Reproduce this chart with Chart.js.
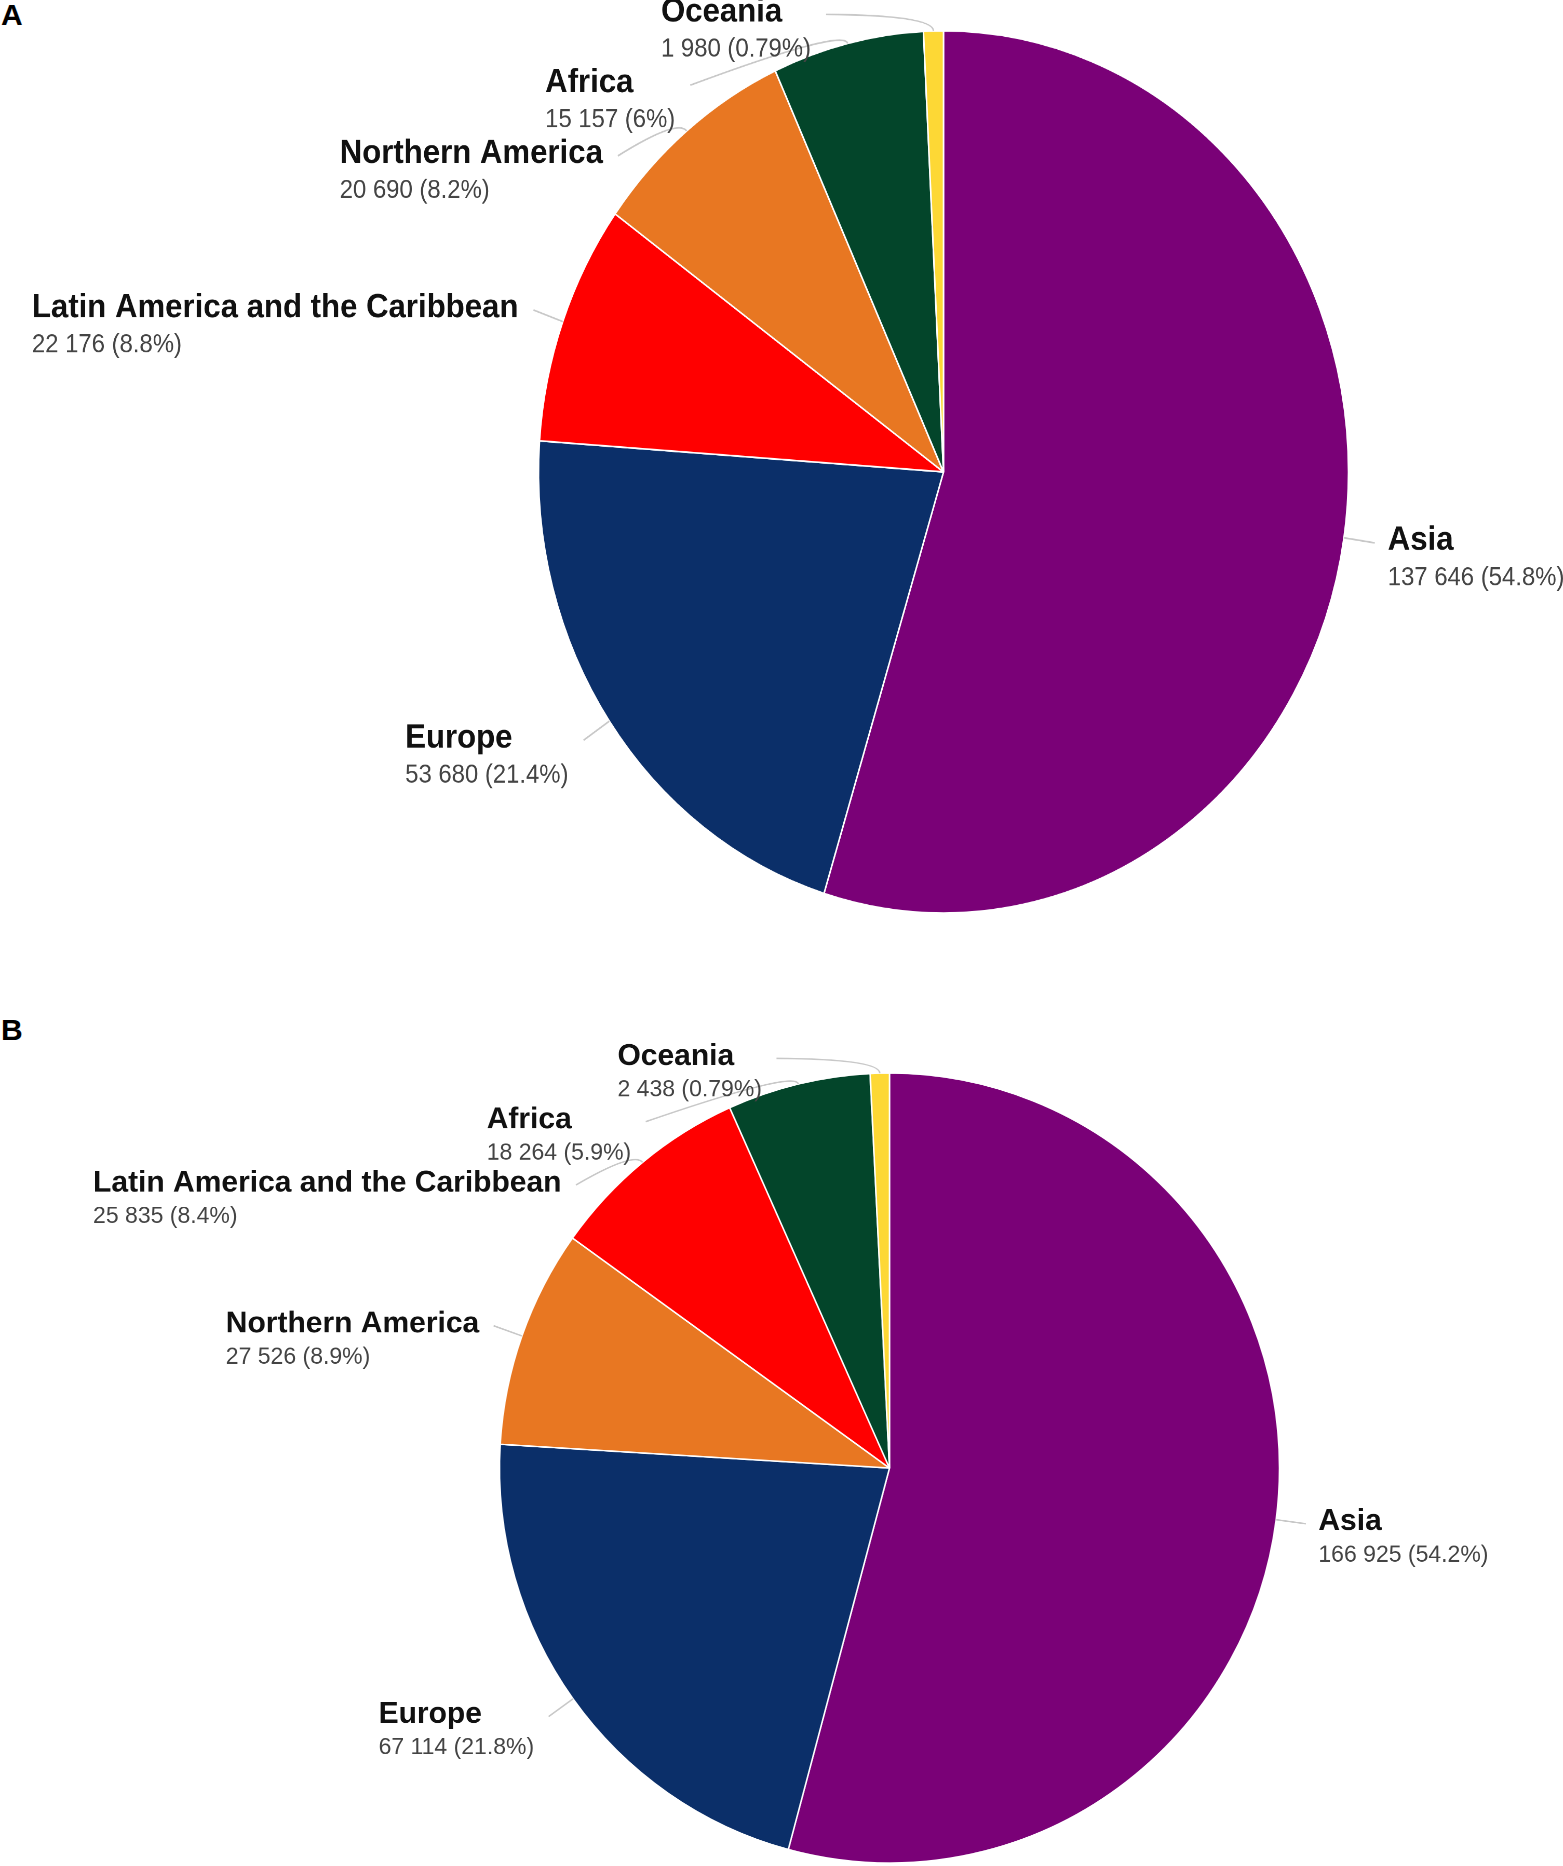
<!DOCTYPE html>
<html>
<head>
<meta charset="utf-8">
<title>Population by region</title>
<script src="https://cdn.jsdelivr.net/npm/chart.js@4.4.1/dist/chart.umd.min.js"></script>
<style>
  html, body { margin: 0; background: #fff; }
  #page { position: relative; width: 1563px; height: 1866px; overflow: hidden; font-family: "Liberation Sans", Arial, sans-serif; }
  .panel { position: absolute; left: 0; transform-origin: 0 0; }
  .tag { position: absolute; left: 1px; font-weight: bold; font-size: 30px; line-height: 1; color: #000; }
</style>
</head>
<body>
<div id="page">
  <div class="tag" style="top:0px">A</div>
  <div class="tag" style="top:1015px">B</div>
  <div class="panel" style="top:0; width:1506px; height:840px; transform:scale(1.0385,1.131)">
    <canvas id="chartA" width="1506" height="840"></canvas>
  </div>
  <div class="panel" style="top:950px; width:1563px; height:904px; transform:scale(1,1.0128)">
    <canvas id="chartB" width="1563" height="904"></canvas>
  </div>
</div>
<script>
// Panel A
const regionsA = ["Asia", "Europe", "Latin America and the Caribbean", "Northern America", "Africa", "Oceania"];
const valuesA = [137646, 53680, 22176, 20690, 15157, 1980];

// Panel B
const regionsB = ["Asia", "Europe", "Northern America", "Latin America and the Caribbean", "Africa", "Oceania"];
const valuesB = [166925, 67114, 27526, 25835, 18264, 2438];

const regionColors = {
    "Asia": "#7a0177",
    "Europe": "#0b2f69",
    "Latin America and the Caribbean": "#ff0000",
    "Northern America": "#e87722",
    "Africa": "#03452a",
    "Oceania": "#fdd835",
};

function formatNumber(n) {
    return String(n).replace(/\B(?=(\d{3})+(?!\d))/g, " ");
}

function formatPercent(p) {
    if (p < 1) return p.toPrecision(2) + "%";
    return String(Math.round(p * 10) / 10) + "%";
}

const nameFont = "bold 30px 'Liberation Sans', Arial, sans-serif";
const valueFont = "23px 'Liberation Sans', Arial, sans-serif";

// Draws the name / value labels outside the pie with leader lines
const outsideLabels = {
    id: "outsideLabels",
    afterDatasetsDraw(chart, args, opts) {
        const ctx = chart.ctx;
        const values = chart.data.datasets[0].data;
        const total = values.reduce((a, b) => a + b, 0);
        const arcs = chart.getDatasetMeta(0).data;

        const items = arcs.map((arc, i) => {
            const p = arc.getProps(["x", "y", "startAngle", "endAngle", "outerRadius"], true);
            const mid = (p.startAngle + p.endAngle) / 2;
            const cos = Math.cos(mid);
            const sin = Math.sin(mid);
            const reach = p.outerRadius + opts.offset;
            return {
                i, cos, sin, reach,
                cx: p.x, cy: p.y, r: p.outerRadius,
                edgeX: p.x + cos * p.outerRadius,
                edgeY: p.y + sin * p.outerRadius,
                y: p.y + sin * reach,
                left: cos < 0,
            };
        });

        // push labels apart on each side, top to bottom
        [true, false].forEach(side => {
            const group = items.filter(it => it.left === side).sort((a, b) => a.y - b.y);
            let prev = -Infinity;
            group.forEach(it => {
                const top = it.cy - it.r - opts.above;
                it.y = Math.max(it.y, top, prev + opts.spacing);
                prev = it.y;
            });
        });

        ctx.save();
        items.forEach(it => {
            const dy = it.y - it.cy;
            const dx = Math.abs(dy) < it.reach ? Math.sqrt(it.reach * it.reach - dy * dy) : 0;
            const endX = it.left ? it.cx - dx : it.cx + dx;

            // leader line
            ctx.beginPath();
            ctx.moveTo(it.edgeX, it.edgeY);
            ctx.quadraticCurveTo(it.edgeX + it.cos * opts.bend, it.edgeY + it.sin * opts.bend, endX, it.y);
            ctx.strokeStyle = "#c8c8c8";
            ctx.lineWidth = 1.5;
            ctx.stroke();

            const name = chart.data.labels[it.i];
            const value = values[it.i];
            const sub = formatNumber(value) + " (" + formatPercent(value / total * 100) + ")";

            ctx.font = nameFont;
            const w1 = ctx.measureText(name).width;
            ctx.font = valueFont;
            const w2 = ctx.measureText(sub).width;
            const x = it.left ? endX - opts.gapLeft - Math.max(w1, w2) : endX + opts.gapRight;

            ctx.textAlign = "left";
            ctx.textBaseline = "middle";
            ctx.fillStyle = "#111";
            ctx.font = nameFont;
            ctx.fillText(name, x, it.y - 2);
            ctx.fillStyle = "#444";
            ctx.font = valueFont;
            ctx.fillText(sub, x, it.y + 31);
        });
        ctx.restore();
    },
};

function makePie(canvasId, labels, values, cx, cy) {
    const canvas = document.getElementById(canvasId);
    const half = 392;
    return new Chart(canvas, {
        type: "pie",
        data: {
            labels: labels,
            datasets: [{
                data: values,
                backgroundColor: labels.map(l => regionColors[l]),
                borderColor: "#ffffff",
                borderWidth: 1.5,
                radius: 390,
            }],
        },
        options: {
            responsive: false,
            devicePixelRatio: 2,
            animation: false,
            events: [],
            layout: {
                padding: {
                    left: cx - half,
                    right: canvas.width - cx - half,
                    top: cy - half,
                    bottom: canvas.height - cy - half,
                },
            },
            plugins: {
                legend: { display: false },
                tooltip: { enabled: false },
                outsideLabels: { offset: 30, bend: 14, gapLeft: 14.5, gapRight: 12.5, spacing: 62.5, above: 14.5 },
            },
        },
        plugins: [outsideLabels],
    });
}

makePie("chartA", regionsA, valuesA, 908.5, 417.3);
makePie("chartB", regionsB, valuesB, 889.5, 511.5);
</script>
</body>
</html>
